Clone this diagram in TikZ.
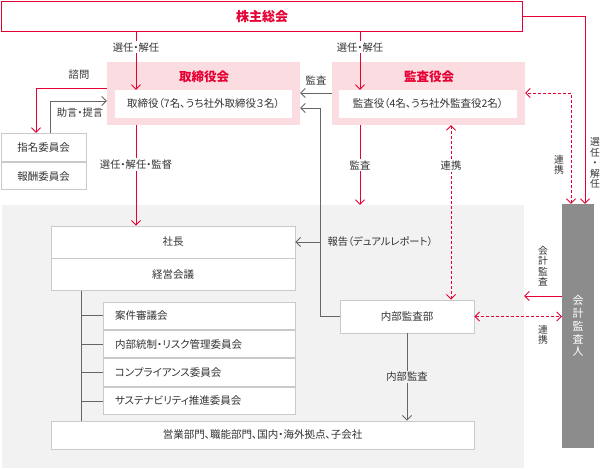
\documentclass[tikz,border=0pt]{standalone}
\usepackage{fontspec}
\setmainfont[RawFeature=+palt]{Noto Sans CJK JP}
\usetikzlibrary{arrows.meta, positioning}
\definecolor{govred}{HTML}{E60033}
\definecolor{boardpink}{HTML}{FBDCE0}
\definecolor{areagray}{HTML}{F2F2F2}
\definecolor{auditorgray}{HTML}{8C8C8C}
\definecolor{linegray}{HTML}{666666}
\definecolor{framegray}{HTML}{CACACA}
\definecolor{textdark}{HTML}{333333}

\begin{document}
\begin{tikzpicture}[x=1pt, y=-1pt, font=\fontsize{10.5}{12}\selectfont, text=textdark]
    \tikzstyle{box} = [rectangle, draw=framegray, fill=white, line width=0.9pt, inner sep=0pt]
    \tikzstyle{panel} = [rectangle, fill=boardpink, inner sep=0pt]
    \tikzstyle{title} = [text=govred, font=\fontsize{12.5}{14}\selectfont\bfseries]
    \tikzstyle{sub} = [box, minimum height=27.5pt, text width=168pt, inner xsep=12pt, align=left]
    \tikzstyle{lbl} = [fill=white, inner sep=1.5pt, font=\fontsize{10.3}{12}\selectfont]
    \tikzstyle{vlbl} = [align=center, inner sep=0pt, font=\fontsize{9.8}{10.5}\selectfont]
    \tikzstyle{redline} = [draw=govred, line width=0.9pt, -{Straight Barb[length=4.5pt, width=9pt]}]
    \tikzstyle{grayline} = [draw=linegray, line width=0.9pt, -{Straight Barb[length=4.5pt, width=9pt]}]
    \tikzstyle{linkline} = [draw=govred, line width=0.9pt, dash pattern=on 3pt off 2pt, {Straight Barb[length=4.5pt, width=9pt]}-{Straight Barb[length=4.5pt, width=9pt]}]

    \useasboundingbox (0,0) rectangle (601,470);

    \node (operations) [fill=areagray, minimum width=522pt, minimum height=263pt, inner sep=0pt] at (263,336.5) {};

    \node (agm) [rectangle, draw=govred, line width=1.5pt, fill=white, minimum width=521pt, minimum height=30pt, text=govred, font=\fontsize{13}{15}\selectfont\bfseries] at (262,16.5) {株主総会};

    \node (board) [panel, minimum width=193pt, minimum height=63pt] at (203.5,93.5) {};
    \node (boardtitle) [title] at (204,77) {取締役会};
    \node (directors) [rectangle, fill=white, minimum width=177pt, minimum height=28pt] at (203.5,104) {取締役（7名、うち社外取締役３名）};

    \node (auditboard) [panel, minimum width=193pt, minimum height=63pt] at (428.5,93.5) {};
    \node (audittitle) [title] at (429,77) {監査役会};
    \node (auditors) [rectangle, fill=white, minimum width=178pt, minimum height=28pt] at (428,104) {監査役（4名、うち社外監査役2名）};

    \node (nomination) [box, minimum width=85pt, minimum height=28.5pt] at (43.5,147.5) {指名委員会};
    \node (remuneration) [box, below=0pt of nomination, minimum width=85pt, minimum height=27pt] {報酬委員会};

    \node (president) [box, minimum width=244pt, minimum height=32pt] at (173,242) {社長};
    \node (mgmt) [box, below=0pt of president, minimum width=244pt, minimum height=32pt] {経営会議};

    \node (review) [sub] at (199,315.75) {案件審議会};
    \node (risk) [sub, below=0pt of review] {内部統制・リスク管理委員会};
    \node (compliance) [sub, below=0pt of risk] {コンプライアンス委員会};
    \node (sustain) [sub, below=0pt of compliance] {サステナビリティ推進委員会};

    \node (internal) [box, minimum width=134pt, minimum height=33pt] at (407,316.5) {内部監査部};
    \node (business) [box, minimum width=423pt, minimum height=28pt] at (262.5,435) {営業部門、職能部門、国内・海外拠点、子会社};

    \node (auditor) [rectangle, fill=auditorgray, minimum width=32pt, minimum height=244pt, inner sep=0pt, text=white, align=center, font=\fontsize{11}{12.8}\selectfont] at (578,326) {会\\計\\監\\査\\人};

    \coordinate (boardx) at (136,0);
    \coordinate (auditx) at (360,0);
    \coordinate (linkx) at (451,0);
    \coordinate (reportx) at (320,0);
    \coordinate (treex) at (81,0);
    \coordinate (accx) at (585,0);
    \coordinate (acclinkx) at (571,0);
    \coordinate (consulty) at (0,88);
    \coordinate (advicey) at (0,101);
    \coordinate (audity) at (0,93);
    \coordinate (reporty) at (0,108);
    \coordinate (accaudity) at (0,296);

    \draw [redline] (agm.south -| boardx) -- (directors.north -| boardx) node[pos=0.26, lbl] {選任・解任};
    \draw [redline] (agm.south -| auditx) -- (auditors.north -| auditx) node[pos=0.26, lbl] {選任・解任};
    \draw [redline] (agm.east) -| (auditor.north -| accx);
    \node (accsel) [vlbl] at (595,163) {選\\任\\・\\解\\任};

    \draw [linkline] (auditor.north -| acclinkx) |- (auditboard.east |- audity);
    \node (acclink) [vlbl] at (559,165) {連\\携};

    \draw [grayline] (auditboard.west |- audity) -- (board.east |- audity) node[midway, above=4pt, font=\fontsize{10.3}{12}\selectfont] {監査};

    \draw [redline] (board.west |- consulty) -| (nomination.north -| 36,0);
    \node (consult) [font=\fontsize{10.3}{12}\selectfont] at (79,75) {諮問};
    \draw [grayline] (nomination.north -| 50,0) |- (board.west |- advicey);
    \node (advice) [font=\fontsize{10.3}{12}\selectfont] at (80,113) {助言・提言};

    \draw [redline] (board.south -| boardx) -- (president.north -| boardx) node[pos=0.39, lbl] {選任・解任・監督};
    \draw [redline] (auditboard.south -| auditx) -- (operations.north -| auditx) node[midway, lbl] {監査};
    \draw [linkline] (auditboard.south -| linkx) -- (internal.north -| linkx) node[pos=0.23, lbl] {連携};

    \draw [grayline] (internal.west) -| (reportx |- reporty) -- (board.east |- reporty);
    \draw [grayline] (reportx |- president.east) -- (president.east);
    \node (report) [font=\fontsize{10.3}{12}\selectfont, anchor=west] at (324,242) {報告（デュアルレポート）};

    \draw [redline] (auditor.west |- accaudity) -- (operations.east |- accaudity);
    \node (accaudit) [vlbl] at (543,266) {会\\計\\監\\査};
    \draw [linkline] (internal.east) -- (auditor.west |- internal.east);
    \node (internallink) [vlbl] at (543,335) {連\\携};

    \draw [grayline] (internal.south) -- (internal.south |- business.north) node[midway, lbl, fill=areagray] {内部監査};

    \draw [draw=linegray, line width=0.9pt] (mgmt.south -| treex) -- (business.north -| treex);
    \foreach \c in {review, risk, compliance, sustain}
      \draw [draw=linegray, line width=0.9pt] (\c.west -| treex) -- (\c.west);
\end{tikzpicture}
\end{document}
